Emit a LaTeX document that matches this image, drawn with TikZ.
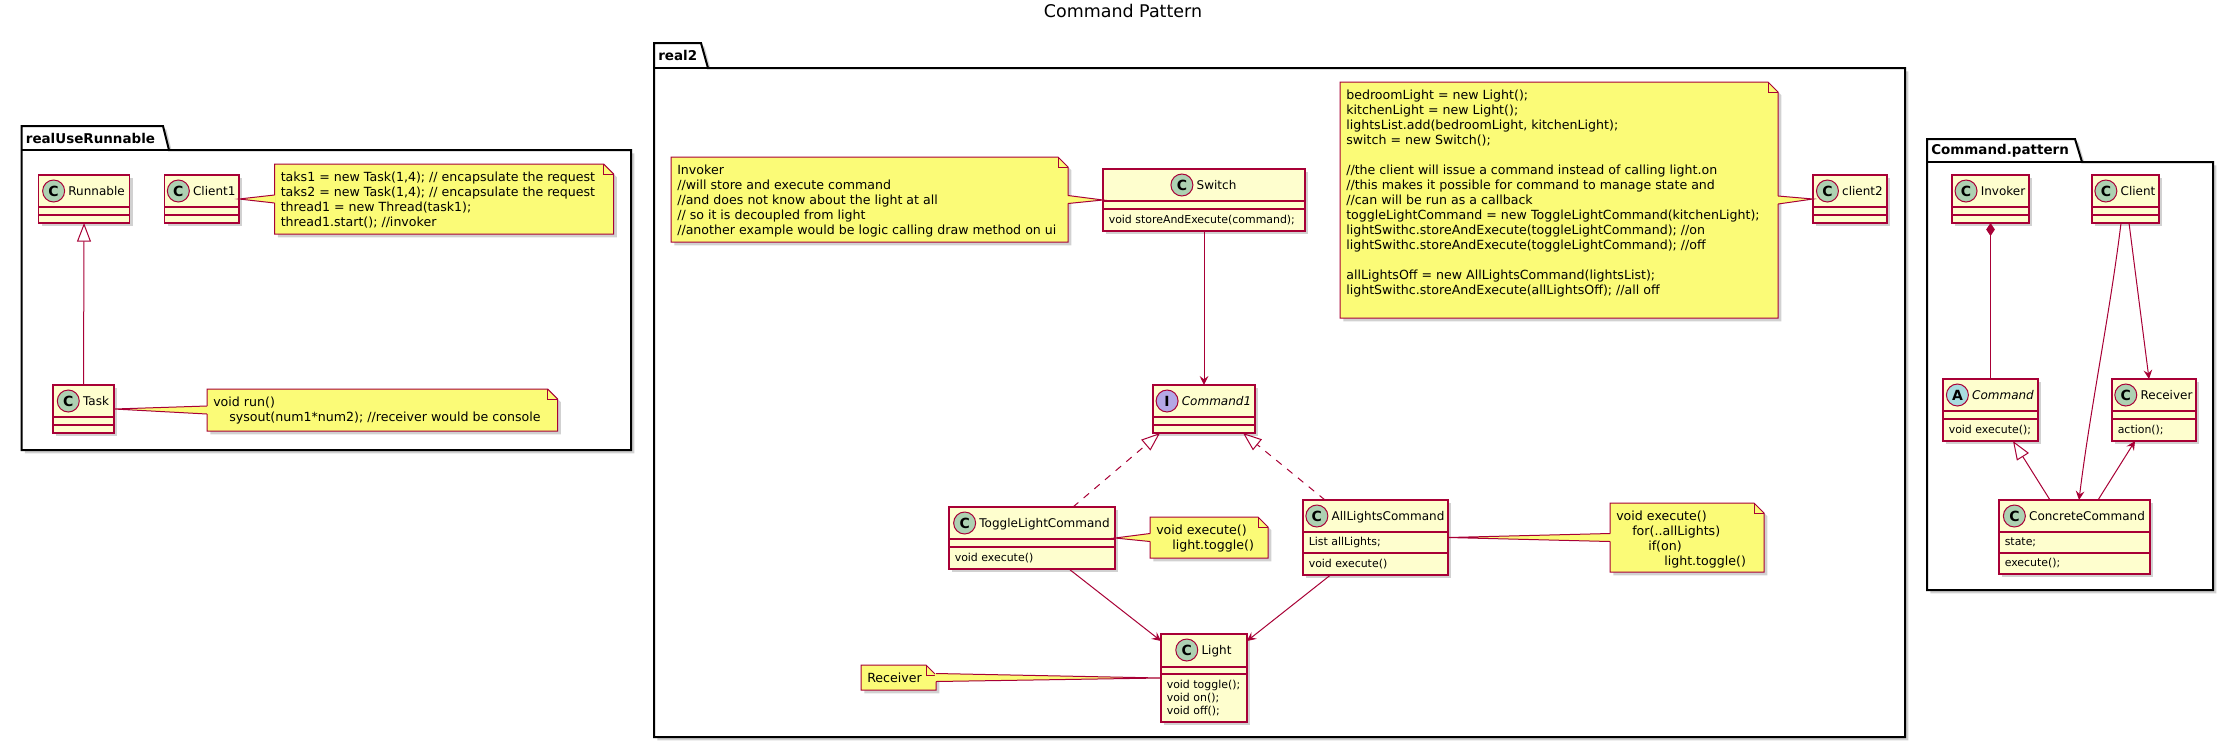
\documentclass[tikz,border=0pt]{standalone}
\usepackage{fontspec}
\setmainfont{DejaVu Sans}
\usetikzlibrary{arrows.meta,shadows,calc}
\definecolor{crim}{HTML}{A80036}
\definecolor{clsfill}{HTML}{FEFECE}
\definecolor{notefill}{HTML}{FBFB77}
\definecolor{spotC}{HTML}{ADD1B2}
\definecolor{spotI}{HTML}{B4A7E5}
\definecolor{spotA}{HTML}{A9DCDF}

\newcommand\fclsname{\fontsize{9pt}{10.8pt}\selectfont}
\newcommand\fmember{\fontsize{8.2pt}{9.5pt}\selectfont}
\newcommand\fnote{\fontsize{9.45pt}{11.25pt}\selectfont}
\newcommand\fpkg{\fontsize{10.1pt}{12pt}\selectfont\bfseries}
\newcommand\ftitle{\fontsize{13.1pt}{15pt}\selectfont}

\tikzset{
 shadowed/.style={drop shadow={shadow xshift=2.5pt, shadow yshift=-2.5pt, opacity=0.18, fill=black}},
 cls/.style={draw=crim, fill=clsfill, line width=0.9pt, inner sep=0pt, outer sep=0pt, shadowed},
 clsline/.style={draw=crim, line width=0.9pt},
 clsname/.style={font=\fclsname, inner sep=0pt, text height=6.57pt, text depth=0pt},
 spot/.style={circle, draw=crim, line width=0.75pt, minimum size=16.5pt, inner sep=0pt, font=\fontsize{10.5pt}{12pt}\selectfont\bfseries},
 member/.style={font=\fmember, inner sep=0pt, align=left, anchor=west},
 notesh/.style={draw=crim, fill=notefill, line width=0.75pt, shadowed},
 noteline/.style={draw=crim, line width=0.75pt},
 notetext/.style={font=\fnote, inner sep=0pt, align=left, anchor=north west},
 pkg/.style={draw=black, fill=white, line width=1.5pt, shadowed},
 pkglabel/.style={font=\fpkg, inner sep=0pt, anchor=west},
 invis/.style={inner sep=0pt, outer sep=0pt, draw=none},
 link/.style={draw=crim, line width=0.75pt},
 assoc/.style={link, -{Stealth[length=6.75pt, width=6.5pt, inset=2.5pt]}},
 gen/.style={link, -{Triangle[open, length=14pt, width=10.5pt]}},
 realz/.style={gen, dash pattern=on 5.25pt off 5.25pt},
 comp/.style={link, {Diamond[length=9.75pt, width=6.5pt]}-},
}

% class box: id, x1, y1, x2, y2
\newcommand\umlclass[5]{%
  \node[cls, anchor=north west, minimum width={(#4-#2)*0.75pt}, minimum height={(#5-#3)*0.75pt}] (#1) at (#2,#3) {};}
% header: id, letter, spot colour, name
\newcommand\clshead[4]{%
  \node[clsname] (#1-t) at ($(#1.north)+(12.5,16)$) {#4};
  \node[spot, fill=#3, anchor=east] at ([xshift=-2.25pt]#1-t.west) {#2};}
% separator: id, offset from top
\newcommand\clssep[2]{%
  \draw[clsline] ($(#1.north west)+(0,#2)$) -- ($(#1.north east)+(0,#2)$);}
% member text: id, centre offset from top, text
\newcommand\clsmem[3]{%
  \node[member] at ($(#1.north west)+(5.5,#2)$) {#3};}
% note: id, x1, y1, x2, y2, text
\newcommand\umlnote[6]{%
  \path[notesh] (#2,#3) -- (#4-10,#3) -- (#4,#3+10) -- (#4,#5) -- (#2,#5) -- cycle;
  \draw[noteline] (#4-10,#3) -- (#4-10,#3+10) -- (#4,#3+10);
  \node[invis, anchor=north west, minimum width={(#4-#2)*0.75pt}, minimum height={(#5-#3)*0.75pt}] (#1) at (#2,#3) {};
  \node[notetext] (#1-t) at (#2+6,#3+7) {\strut #6};}
% note connector: class anchor, note anchor, inward shift
\newcommand\notewedge[3]{%
  \fill[notefill] (#1) -- ([xshift=#3, yshift=3pt]#2) -- ([xshift=#3, yshift=-3pt]#2) -- cycle;
  \draw[noteline] ([yshift=3pt]#2) -- (#1) -- ([yshift=-3pt]#2);}

\begin{document}
\begin{tikzpicture}[x=0.75pt,y=-0.75pt]
\useasboundingbox[fill=white] (0,0) rectangle (2234,747);

% title
\node[font=\ftitle, inner sep=0pt] (title) at (1123,11) {Command Pattern};

% ---------- packages ----------
\path[pkg] (21.6,150) -- (21.6,126) -- (163,126) -- (169,150) -- (631,150) -- (631,450) -- (21.6,450) -- cycle;
\draw[black, line width=1.5pt] (21.6,150) -- (169,150);
\node[pkglabel] (pkgA) at (25.6,138) {realUseRunnable};

\path[pkg] (654,68) -- (654,43) -- (701,43) -- (708,68) -- (1905,68) -- (1905,737) -- (654,737) -- cycle;
\draw[black, line width=1.5pt] (654,68) -- (708,68);
\node[pkglabel] (pkgB) at (658,55.5) {real2};

\path[pkg] (1927,162) -- (1927,139) -- (2075,139) -- (2082,162) -- (2213,162) -- (2213,590) -- (1927,590) -- cycle;
\draw[black, line width=1.5pt] (1927,162) -- (2082,162);
\node[pkglabel] (pkgC) at (1931,150.5) {Command.pattern};

% ---------- realUseRunnable ----------
\umlclass{runnable}{38.6}{175}{129.5}{223}
\clshead{runnable}{C}{spotC}{Runnable}
\clssep{runnable}{32}\clssep{runnable}{40}

\umlclass{client1}{164.6}{175}{239}{223}
\clshead{client1}{C}{spotC}{Client1}
\clssep{client1}{32}\clssep{client1}{40}

\umlclass{task}{53}{385}{114}{433}
\clshead{task}{C}{spotC}{Task}
\clssep{task}{32}\clssep{task}{40}

\umlnote{noteA}{274.5}{164}{613.6}{234}{taks1 = new Task(1,4); // encapsulate the request\\
taks2 = new Task(1,4); // encapsulate the request\\
thread1 = new Thread(task1);\\
thread1.start(); //invoker}

\umlnote{noteB}{207}{389}{557.6}{431}{void run()\\
\hspace*{12pt}sysout(num1*num2); //receiver would be console}

% ---------- real2 ----------
\umlclass{switch}{1103}{169}{1305}{231}
\clshead{switch}{C}{spotC}{Switch}
\clssep{switch}{32}\clssep{switch}{40}
\clsmem{switch}{51}{void storeAndExecute(command);}

\umlclass{client2}{1813}{175}{1887}{223}
\clshead{client2}{C}{spotC}{client2}
\clssep{client2}{32}\clssep{client2}{40}

\umlclass{command1}{1153}{385}{1255}{433}
\clshead{command1}{I}{spotI}{\itshape Command1}
\clssep{command1}{32}\clssep{command1}{40}

\umlclass{tlc}{949}{507}{1115}{569}
\clshead{tlc}{C}{spotC}{ToggleLightCommand}
\clssep{tlc}{32}\clssep{tlc}{40}
\clsmem{tlc}{51}{void execute()}

\umlclass{alc}{1303}{500}{1448}{575}
\clshead{alc}{C}{spotC}{AllLightsCommand}
\clssep{alc}{32}\clssep{alc}{53}
\clsmem{alc}{42.5}{List allLights;}
\clsmem{alc}{64}{void execute()}

\umlclass{light}{1161}{634}{1247}{722}
\clshead{light}{C}{spotC}{Light}
\clssep{light}{33}\clssep{light}{40}
\clsmem{light}{64}{void toggle();\\void on();\\void off();}

\umlnote{noteInv}{671}{157}{1068}{242}{Invoker\\
//will store and execute command\\
//and does not know about the light at all\\
// so it is decoupled from light\\
//another example would be logic calling draw method on ui}

\umlnote{noteClient}{1340}{82}{1778}{318}{bedroomLight = new Light();\\
kitchenLight = new Light();\\
lightsList.add(bedroomLight, kitchenLight);\\
switch = new Switch();\\[11.25pt]
//the client will issue a command instead of calling light.on\\
//this makes it possible for command to manage state and\\
//can will be run as a callback\\
toggleLightCommand = new ToggleLightCommand(kitchenLight);\\
lightSwithc.storeAndExecute(toggleLightCommand); //on\\
lightSwithc.storeAndExecute(toggleLightCommand); //off\\[11.25pt]
allLightsOff = new AllLightsCommand(lightsList);\\
lightSwithc.storeAndExecute(allLightsOff); //all off}

\umlnote{noteTog}{1150}{517}{1268}{558}{void execute()\\
\hspace*{12pt}light.toggle()}

\umlnote{noteAll}{1610}{503}{1764}{572}{void execute()\\
\hspace*{12pt}for(..allLights)\\
\hspace*{24pt}if(on)\\
\hspace*{36pt}light.toggle()}

\umlnote{noteRec}{861}{665}{936}{690}{Receiver}

% ---------- Command.pattern ----------
\umlclass{invoker}{1952}{175}{2029}{223}
\clshead{invoker}{C}{spotC}{Invoker}
\clssep{invoker}{32}\clssep{invoker}{40}

\umlclass{client}{2092}{175}{2159}{223}
\clshead{client}{C}{spotC}{Client}
\clssep{client}{32}\clssep{client}{40}

\umlclass{command}{1943}{379}{2038}{441}
\clshead{command}{A}{spotA}{\itshape Command}
\clssep{command}{32}\clssep{command}{40}
\clsmem{command}{51}{void execute();}

\umlclass{receiver}{2112}{379}{2196}{441}
\clshead{receiver}{C}{spotC}{Receiver}
\clssep{receiver}{32}\clssep{receiver}{40}
\clsmem{receiver}{51}{action();}

\umlclass{concrete}{1999}{500}{2150}{574}
\clshead{concrete}{C}{spotC}{ConcreteCommand}
\clssep{concrete}{32}\clssep{concrete}{53}
\clsmem{concrete}{42.5}{state;}
\clsmem{concrete}{63.5}{execute();}

% ---------- note connectors ----------
\notewedge{client1.east}{noteA.west}{0.8pt}
\notewedge{task.east}{noteB.west}{0.8pt}
\notewedge{switch.west}{noteInv.east}{-0.8pt}
\notewedge{client2.west}{noteClient.east}{-0.8pt}
\notewedge{tlc.east}{noteTog.west}{0.8pt}
\notewedge{alc.east}{noteAll.west}{0.8pt}
\notewedge{light.west}{noteRec.east}{-0.8pt}

% ---------- relations ----------
\draw[gen] (task.north) -- (runnable.south);

\draw[assoc] (switch.south) -- (command1.north);
\draw[realz] ($(tlc.north west)+(124,0)$) -- ($(command1.south west)+(7,0)$);
\draw[realz] ($(alc.north west)+(22,0)$) -- ($(command1.south west)+(90,0)$);
\draw[assoc] ($(tlc.south west)+(120,0)$) -- ($(light.north west)+(0,7)$);
\draw[assoc] ($(alc.south west)+(27.5,0)$) -- ($(light.north east)+(0,7)$);

\draw[comp] (invoker.south) -- (command.north);
\draw[assoc] ($(client.south west)+(29,0)$) .. controls ($(client.south west)+(18,90)$) and ($(concrete.north west)+(91,-90)$) .. ($(concrete.north west)+(80,0)$);
\draw[assoc] ($(client.south west)+(37,0)$) -- ($(receiver.north west)+(37,0)$);
\draw[gen] ($(concrete.north west)+(51,0)$) -- ($(command.south west)+(70,0)$);
\draw[assoc] ($(concrete.north west)+(99,0)$) -- ($(receiver.south west)+(23,0)$);
\end{tikzpicture}
\end{document}
